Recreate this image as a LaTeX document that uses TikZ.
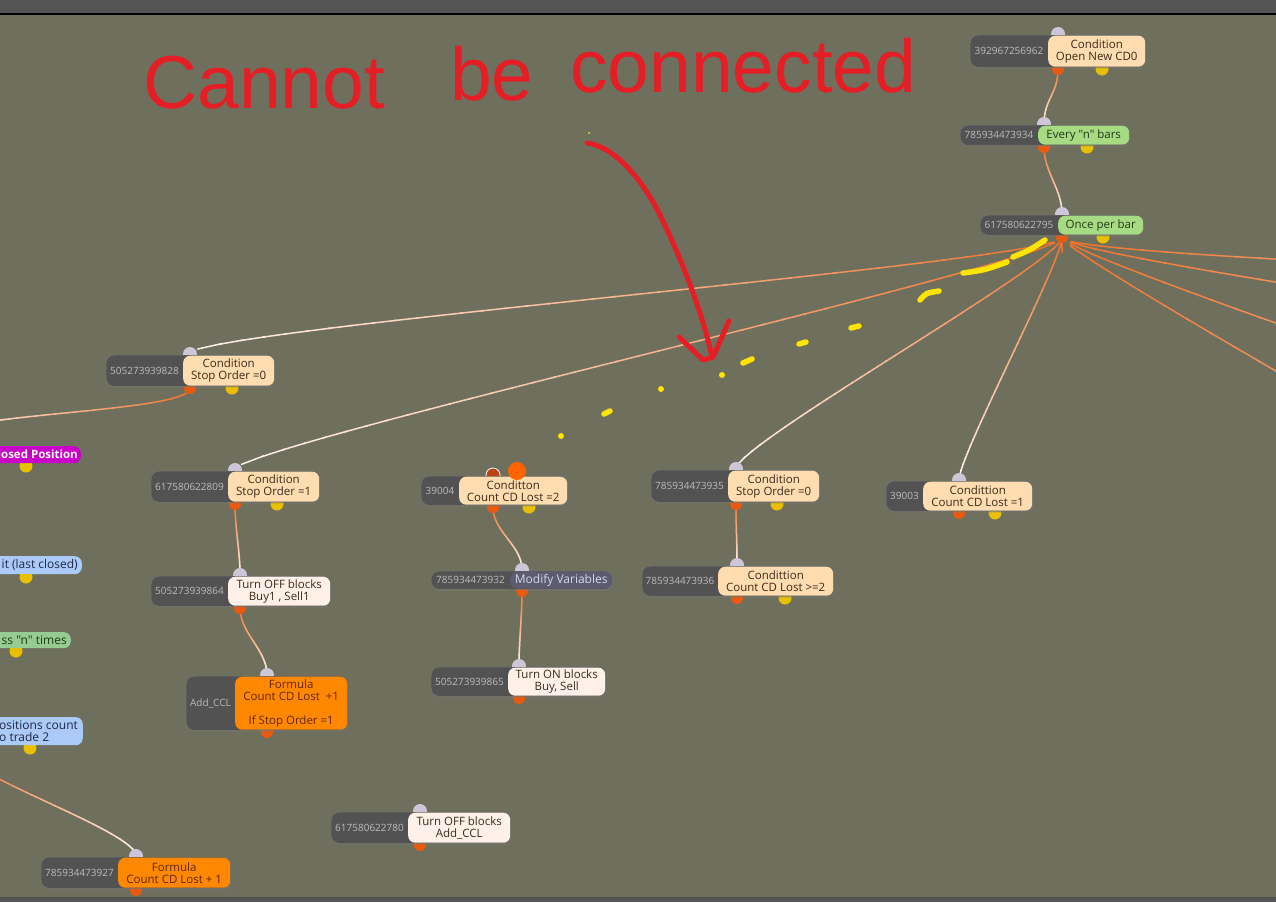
\documentclass[tikz,border=0pt]{standalone}
\usepackage{fontspec}
\setmainfont{Open Sans}[Ligatures=TeXOff]
\newfontfamily\handfont{Liberation Sans}
\usetikzlibrary{decorations.markings,shadows}
\newcommand\dq{\char34\relax}

\definecolor{ccanvas}{RGB}{111,111,94}
\definecolor{ctopbar}{RGB}{84,84,84}
\definecolor{cid}{RGB}{82,82,82}
\definecolor{cidtxt}{RGB}{188,188,188}
\definecolor{cpeach}{RGB}{255,221,176}
\definecolor{cpeachtxt}{RGB}{58,42,26}
\definecolor{ccream}{RGB}{255,241,232}
\definecolor{cgreen}{RGB}{166,219,132}
\definecolor{cgreentxt}{RGB}{34,58,20}
\definecolor{cgreentwo}{RGB}{150,204,146}
\definecolor{cblue}{RGB}{172,202,248}
\definecolor{cbluetxt}{RGB}{28,40,72}
\definecolor{cmagenta}{RGB}{200,0,200}
\definecolor{cformula}{RGB}{255,136,0}
\definecolor{cformtxt}{RGB}{96,38,0}
\definecolor{cmod}{RGB}{92,92,112}
\definecolor{cmodtxt}{RGB}{214,214,238}
\definecolor{cinknob}{RGB}{206,198,216}
\definecolor{coutknob}{RGB}{232,90,16}
\definecolor{cyknob}{RGB}{232,192,0}
\definecolor{lorange}{RGB}{236,114,42}
\definecolor{lwhite}{RGB}{255,244,238}
\definecolor{inkred}{RGB}{228,30,36}
\definecolor{inkyellow}{RGB}{255,228,0}

\tikzset{
  idbox/.style={fill=cid, rounded corners=8pt, draw=black!55, line width=0.4pt, inner sep=0pt,
    drop shadow={opacity=0.3, shadow xshift=0.8pt, shadow yshift=-1.5pt}},
  idtext/.style={text=cidtxt, font=\fontsize{10}{11}\selectfont, inner sep=0pt},
  labbase/.style={rounded corners=7pt, inner sep=0pt, align=center, font=\fontsize{11.5}{12}\selectfont},
  peachlab/.style={labbase, fill=cpeach, text=cpeachtxt},
  creamlab/.style={labbase, fill=ccream, text=cpeachtxt},
  greenlab/.style={labbase, fill=cgreen, text=cgreentxt},
  greentwolab/.style={labbase, fill=cgreentwo, text=cgreentxt},
  bluelab/.style={labbase, fill=cblue, text=cbluetxt},
  maglab/.style={labbase, fill=cmagenta},
  formlab/.style={labbase, fill=cformula, text=cformtxt},
  modlab/.style={labbase, fill=cmod, text=cmodtxt, font=\fontsize{12}{13}\selectfont},
  plaintext/.style={inner sep=0pt, font=\fontsize{12}{12.5}\selectfont},
  inknobst/.style={fill=cinknob},
  outknobst/.style={fill=coutknob},
  yknobst/.style={fill=cyknob},
  gradlink/.style={decorate, decoration={markings,
     mark=between positions 0 and 1 step 0.025 with {%
       \pgfmathtruncatemacro\gp{max(0,100-2.5*(\pgfkeysvalueof{/pgf/decoration/mark info/sequence number}-1))}%
       \pgfmathsetmacro\gl{0.014*\pgfdecoratedpathlength}%
       \draw[line width=1.5pt, line cap=round, color=lorange!\gp!lwhite] (-\gl pt,0) -- (\gl pt,0);%
     }}},
  ink/.style={draw=inkred, line width=5pt, line cap=round, line join=round},
  yink/.style={draw=inkyellow, line width=5.5pt, line cap=round},
  inktext/.style={text=inkred, inner sep=0pt, font=\handfont\fontsize{75}{75}\selectfont}
}

\newcommand\ports[4]{%
  \coordinate (#1-in) at (#2,{#3-1});
  \coordinate (#1-out) at (#2,{#4+2});
}
\newcommand\knobs[1]{%
  \fill[inknobst] (#1-in) circle (7);
  \fill[outknobst] (#1-out) circle (6);
}
\newcommand\link[2]{\path[gradlink] (#1) .. controls +(0,25) and +(0,-25) .. (#2);}
\newcommand\fblock[9]{%
  \node[idbox, anchor=north west, minimum width={(#5-#3)*1pt}, minimum height={(#7-#6)*1pt}] (#1-box) at (#3,#6) {};
  \node[idtext] (#1-id) at ({(#3+#4)/2},{(#6+#7)/2}) {#2};
  \node[#8, anchor=north west, minimum width={(#5-#4)*1pt}, minimum height={(#7-#6-1)*1pt}] (#1) at (#4,{#6+0.5}) {#9};
}

\begin{document}
\begin{tikzpicture}[x=1pt,y=-1pt]
\useasboundingbox (0,0) rectangle (1276,902);
\clip (0,0) rectangle (1276,902);
% background
\fill[ccanvas] (0,0) rectangle (1276,902);
\fill[ctopbar] (0,0) rectangle (1276,14);
\draw[black, line width=1.5pt] (0,14) -- (1276,14);
\fill[ctopbar] (0,897) rectangle (1276,902);
\draw[black!70, line width=1pt] (0,897) -- (1276,897);

% ports
\ports{T1}{1058}{35}{67}
\ports{T2}{1044}{125}{145}
\ports{T3}{1062}{215}{235}
\ports{A}{190}{355}{386}
\ports{C}{235}{471}{502}
\ports{G}{240}{576}{606}
\ports{H}{267}{676}{730}
\ports{I}{493}{476}{505}
\ports{J}{522}{571}{589}
\ports{K}{519}{667}{696}
\ports{L}{736}{470}{502}
\ports{M}{737}{566}{596}
\ports{N}{959}{481}{511}
\ports{O}{420}{812}{843}
\ports{P}{136}{857}{888}
\coordinate (R1) at (2000,307);
\coordinate (R2) at (2000,408);
\coordinate (R3) at (2000,588);
\coordinate (R4) at (2000,798);
\coordinate (LA) at (-60,438);
\coordinate (LB) at (-40,749);

% connectors
\link{T1-out}{T2-in}
\link{T2-out}{T3-in}
\link{T3-out}{A-in}
\link{T3-out}{C-in}
\link{T3-out}{L-in}
\link{T3-out}{N-in}
\link{T3-out}{R1}
\link{T3-out}{R2}
\link{T3-out}{R3}
\link{T3-out}{R4}
\link{A-out}{LA}
\link{LB}{P-in}
\link{C-out}{G-in}
\link{G-out}{H-in}
\link{I-out}{J-in}
\link{J-out}{K-in}
\link{L-out}{M-in}

% knobs
\knobs{T1} \knobs{T2} \knobs{T3} \knobs{A} \knobs{C} \knobs{G} \knobs{H}
\knobs{J} \knobs{K} \knobs{L} \knobs{M} \knobs{N} \knobs{O} \knobs{P}
\fill[fill={rgb,255:red,186;green,68;blue,18}, draw=white, line width=0.8pt] (I-in) circle (7);
\fill[outknobst] (I-out) circle (6);
\foreach \yx/\yy in {1102/69,1087/147,1103/237,232/388,277/504,529/507,777/504,785/598,995/513,26/466,26/577,16/651,30/748}
  \fill[yknobst] (\yx,\yy) circle (6.5);

% blocks
\fblock{T1}{392967256962}{970}{1048}{1145}{35}{67}{peachlab}{Condition\\Open New CD0}
\fblock{T2}{785934473934}{960}{1038}{1129}{125}{145}{greenlab}{Every \dq n\dq\ bars}
\fblock{T3}{617580622795}{980}{1058}{1143}{215}{235}{greenlab}{Once per bar}
\fblock{A}{505273939828}{106}{183}{274}{355}{386}{peachlab}{Condition\\Stop Order =0}
\fblock{C}{617580622809}{151}{228}{319}{471}{502}{peachlab}{Condition\\Stop Order =1}
\fblock{G}{505273939864}{151}{228}{330}{576}{606}{creamlab}{Turn OFF blocks\\Buy1 , Sell1}
\fblock{H}{Add\_CCL}{186}{235}{347}{676}{730}{formlab}{Formula\\Count CD Lost~ +1\\~\\If Stop Order =1}
\fblock{I}{39004}{421}{459}{567}{476}{505}{peachlab}{Conditton\\Count CD Lost =2}
\fblock{J}{785934473932}{431}{510}{612}{571}{589}{modlab}{Modify Variables}
\fblock{K}{505273939865}{431}{508}{605}{667}{696}{creamlab}{Turn ON blocks\\Buy, Sell}
\fblock{L}{785934473935}{651}{728}{819}{470}{502}{peachlab}{Condition\\Stop Order =0}
\fblock{M}{785934473936}{642}{718}{833}{566}{596}{peachlab}{Condittion\\Count CD Lost >=2}
\fblock{N}{39003}{886}{923}{1032}{481}{511}{peachlab}{Condittion\\Count CD Lost =1}
\fblock{O}{617580622780}{331}{408}{510}{812}{843}{creamlab}{Turn OFF blocks\\Add\_CCL}
\fblock{P}{785934473927}{41}{118}{230}{857}{888}{formlab}{Formula\\Count CD Lost + 1}

% partially visible blocks at the left edge
\node[maglab, anchor=north east, minimum width=110, minimum height=17] (B) at (81,446) {};
\node[plaintext, anchor=east, text=white, font=\bfseries\fontsize{11.5}{12}\selectfont] (B-t) at (78,454.5) {losed Position};
\node[bluelab, anchor=north east, minimum width=110, minimum height=18] (D) at (82,556) {};
\node[plaintext, anchor=east, text=cbluetxt] (D-t) at (78,565) {it (last closed)};
\node[greentwolab, anchor=north east, minimum width=100, minimum height=16] (E) at (71,632) {};
\node[plaintext, anchor=east, text=cgreentxt] (E-t) at (67,640) {ss \dq n\dq\ times};
\node[bluelab, anchor=north east, minimum width=110, minimum height=28] (F) at (83,717) {};
\node[plaintext, anchor=west, align=left, text=cbluetxt] (F-t) at (-1,731) {ositions count\\o trade 2};

% dangling connector end
\fill[fill={rgb,255:red,255;green,100;blue,0}] (517,471) circle (9);

% hand-drawn annotation
\node[inktext, anchor=base west] (w1) at (143,108) {Cannot};
\node[inktext, anchor=base west] (w2) at (450,100) {be};
\node[inktext, anchor=base west] (w3) at (570,92) {connected};
\draw[ink] (587,143) .. controls (612,146) and (640,175) .. (660,215) .. controls (683,262) and (703,315) .. (712,357);
\draw[ink] (679,337) -- (703,360) -- (713,357) -- (729,321);

\fill[inkyellow] (589,133) circle (1);
\fill[inkyellow] (561,436) circle (3);
\draw[yink] (604,414) -- (610,411);
\fill[inkyellow] (661,389) circle (3);
\fill[inkyellow] (722,375) circle (3);
\draw[yink] (743,363) -- (752,359);
\draw[yink] (799,344) -- (806,342);
\draw[yink] (851,328) -- (859,326);
\draw[yink] (920,300) .. controls (926,293) .. (939,291);
\draw[yink] (963,273) .. controls (985,270) .. (1007,262);
\draw[yink] (1013,257) .. controls (1030,250) .. (1045,240);
\end{tikzpicture}
\end{document}
